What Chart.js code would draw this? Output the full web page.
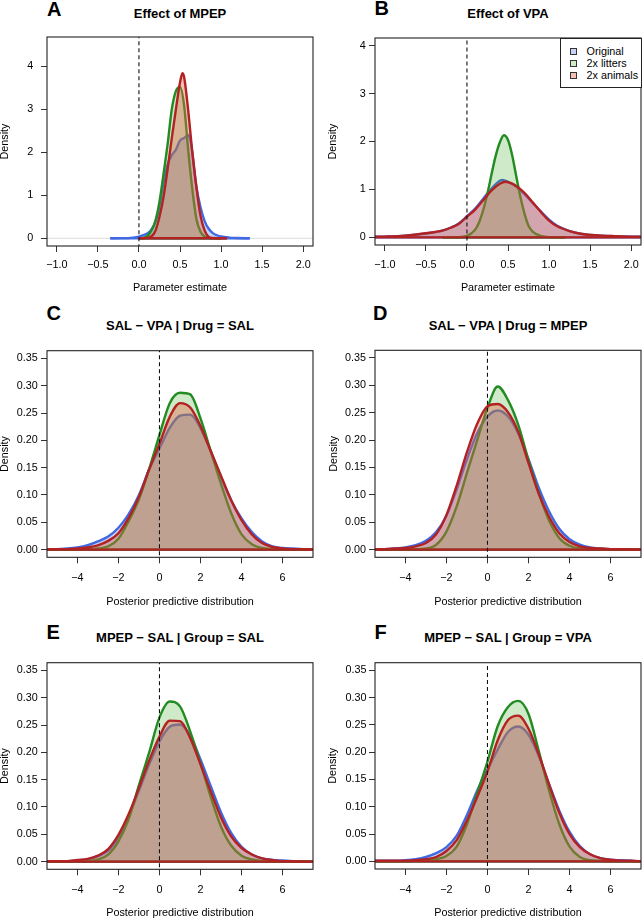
<!DOCTYPE html>
<html>
<head>
<meta charset="utf-8">
<title>Posterior densities</title>
<script src="https://cdn.jsdelivr.net/npm/chart.js@4.4.1/dist/chart.umd.min.js"></script>
<style>
  body { margin: 0; background: #fff; font-family: "Liberation Sans", Arial, Helvetica, sans-serif; }
  #page { position: relative; width: 642px; height: 919px; overflow: hidden; background: #fff; }
  #page canvas { position: absolute; }
  .letter { position: absolute; font-size: 20px; line-height: 20px; font-weight: bold; color: #000; }
  .title { position: absolute; width: 300px; text-align: center; font-size: 13px; line-height: 16px; font-weight: bold; white-space: nowrap; color: #000; }
  #legend { position: absolute; left: 560px; top: 38px; width: 82px; height: 50px; border: 1px solid #222; background: #fff; box-sizing: border-box; font-size: 10.8px; color: #000; }
  #legend .sw { position: absolute; left: 9px; width: 7px; height: 7px; border: 1px solid #333; box-sizing: border-box; }
  #legend .lb { position: absolute; left: 25.5px; line-height: 12px; white-space: nowrap; }
</style>
</head>
<body>
<div id="page"></div>
<script>
// series shown in every panel
var seriesNames = ['Original', '2x litters', '2x animals'];

// tick labels
var paramTicks = [-1, -0.5, 0, 0.5, 1, 1.5, 2];
var densTicksAB = [0, 1, 2, 3, 4];
var ppdTicks = [-4, -2, 0, 2, 4, 6];
var densTicksPPD = [0, 0.05, 0.10, 0.15, 0.20, 0.25, 0.30, 0.35];

// A - effect of MPEP
var mpepOrigX = [-0.35, -0.2, -0.1, 0.0, 0.1, 0.15, 0.2, 0.25, 0.3, 0.35, 0.4, 0.45, 0.5, 0.55, 0.6, 0.625, 0.65, 0.7, 0.75, 0.8, 0.85, 0.9, 0.95, 1.0, 1.1, 1.2, 1.35];
var mpepOrigY = [0, 0.003, 0.008, 0.04, 0.11, 0.2, 0.38, 0.75, 1.3, 1.72, 1.93, 2.06, 2.27, 2.33, 2.4, 2.3, 2.0, 1.2, 0.72, 0.4, 0.22, 0.12, 0.07, 0.04, 0.015, 0.005, 0];
var mpepLitX = [0.0, 0.05, 0.1, 0.15, 0.2, 0.25, 0.3, 0.35, 0.4, 0.45, 0.5, 0.55, 0.6, 0.65, 0.7, 0.75, 0.8, 0.85, 0.9, 1.0];
var mpepLitY = [0, 0.01, 0.05, 0.17, 0.4, 0.85, 1.5, 2.2, 3.0, 3.42, 3.52, 3.09, 2.05, 1.14, 0.45, 0.15, 0.04, 0.01, 0.003, 0];
var mpepAniX = [0.0, 0.1, 0.15, 0.2, 0.25, 0.3, 0.35, 0.4, 0.45, 0.5, 0.53, 0.55, 0.6, 0.65, 0.7, 0.75, 0.8, 0.85, 0.9, 1.07];
var mpepAniY = [0, 0.01, 0.04, 0.17, 0.5, 0.97, 1.62, 2.33, 3.0, 3.62, 3.84, 3.75, 2.97, 2.0, 1.18, 0.52, 0.18, 0.03, 0.005, 0];

// B - effect of VPA
var vpaOrigX = [-1.15, -1.0, -0.75, -0.5, -0.3, -0.2, -0.1, 0.0, 0.1, 0.2, 0.3, 0.4, 0.43, 0.5, 0.6, 0.7, 0.8, 0.9, 1.0, 1.1, 1.25, 1.4, 1.6, 1.8, 2.0, 2.15];
var vpaOrigY = [0.01, 0.015, 0.033, 0.08, 0.14, 0.2, 0.29, 0.44, 0.6, 0.81, 1.02, 1.18, 1.2, 1.16, 1.06, 0.9, 0.72, 0.54, 0.37, 0.24, 0.13, 0.07, 0.04, 0.022, 0.013, 0.01];
var vpaLitX = [-0.3, -0.1, 0.0, 0.05, 0.1, 0.15, 0.2, 0.25, 0.3, 0.35, 0.4, 0.45, 0.5, 0.55, 0.6, 0.65, 0.7, 0.75, 0.8, 0.9, 1.0, 1.2];
var vpaLitY = [0, 0.003, 0.03, 0.08, 0.16, 0.32, 0.58, 0.92, 1.32, 1.7, 1.98, 2.13, 2.03, 1.72, 1.28, 0.85, 0.5, 0.24, 0.12, 0.03, 0.005, 0];
var vpaAniX = [-1.15, -1.0, -0.75, -0.5, -0.3, -0.2, -0.1, 0.0, 0.1, 0.2, 0.3, 0.4, 0.47, 0.55, 0.6, 0.7, 0.8, 0.9, 1.0, 1.1, 1.25, 1.4, 1.6, 1.8, 2.0, 2.15];
var vpaAniY = [0.01, 0.015, 0.035, 0.085, 0.14, 0.2, 0.28, 0.43, 0.58, 0.78, 0.98, 1.12, 1.16, 1.12, 1.07, 0.93, 0.73, 0.53, 0.35, 0.23, 0.13, 0.07, 0.04, 0.025, 0.015, 0.01];

// C-F - posterior predictive distributions, all on one x grid
var ppdX = [-5.5, -5, -4.5, -4, -3.5, -3, -2.5, -2, -1.5, -1, -0.5, 0, 0.5, 1, 1.5, 2, 2.5, 3, 3.5, 4, 4.5, 5, 5.5, 6, 6.5, 7, 7.5];

// C - SAL - VPA | Drug = SAL
var drugSalOrig = [0.001, 0.001, 0.002, 0.004, 0.008, 0.015, 0.024, 0.04, 0.065, 0.1, 0.147, 0.185, 0.223, 0.245, 0.247, 0.222, 0.18, 0.132, 0.09, 0.057, 0.032, 0.015, 0.006, 0.003, 0.002, 0.001, 0.0005];
var drugSalLit = [0, 0, 0, 0.001, 0.001, 0.002, 0.006, 0.02, 0.052, 0.092, 0.148, 0.21, 0.268, 0.287, 0.284, 0.24, 0.18, 0.12, 0.066, 0.028, 0.01, 0.003, 0.001, 0, 0, 0, 0];
var drugSalAni = [0.001, 0.001, 0.001, 0.002, 0.004, 0.008, 0.016, 0.03, 0.058, 0.097, 0.147, 0.194, 0.243, 0.268, 0.26, 0.226, 0.18, 0.135, 0.09, 0.054, 0.028, 0.012, 0.005, 0.002, 0.001, 0.001, 0.0005];

// D - SAL - VPA | Drug = MPEP
var drugMpepOrig = [0.001, 0.001, 0.002, 0.004, 0.008, 0.016, 0.032, 0.062, 0.11, 0.165, 0.213, 0.243, 0.254, 0.243, 0.212, 0.165, 0.113, 0.07, 0.038, 0.019, 0.009, 0.004, 0.002, 0.001, 0.001, 0.0005, 0];
var drugMpepLit = [0, 0, 0, 0.001, 0.001, 0.002, 0.009, 0.033, 0.079, 0.14, 0.2, 0.259, 0.298, 0.273, 0.228, 0.163, 0.103, 0.053, 0.021, 0.007, 0.002, 0.001, 0, 0, 0, 0, 0];
var drugMpepAni = [0.001, 0.001, 0.002, 0.003, 0.006, 0.012, 0.028, 0.063, 0.117, 0.178, 0.23, 0.262, 0.266, 0.251, 0.215, 0.158, 0.102, 0.06, 0.03, 0.014, 0.006, 0.003, 0.002, 0.001, 0.001, 0.0005, 0];

// E - MPEP - SAL | Group = SAL
var grpSalOrig = [0.001, 0.001, 0.001, 0.002, 0.004, 0.01, 0.02, 0.045, 0.083, 0.13, 0.178, 0.22, 0.247, 0.251, 0.23, 0.187, 0.138, 0.09, 0.052, 0.027, 0.013, 0.006, 0.003, 0.002, 0.001, 0.0005, 0];
var grpSalLit = [0, 0, 0, 0.001, 0.001, 0.004, 0.013, 0.037, 0.078, 0.14, 0.2, 0.264, 0.293, 0.284, 0.238, 0.18, 0.118, 0.064, 0.029, 0.011, 0.004, 0.001, 0, 0, 0, 0, 0];
var grpSalAni = [0.001, 0.001, 0.001, 0.003, 0.005, 0.011, 0.023, 0.049, 0.087, 0.135, 0.185, 0.229, 0.258, 0.257, 0.226, 0.178, 0.128, 0.081, 0.046, 0.025, 0.013, 0.006, 0.003, 0.001, 0.001, 0, 0];

// F - MPEP - SAL | Group = VPA
var grpVpaOrig = [0.001, 0.001, 0.001, 0.002, 0.004, 0.008, 0.015, 0.026, 0.047, 0.085, 0.13, 0.168, 0.205, 0.237, 0.247, 0.232, 0.193, 0.142, 0.093, 0.054, 0.028, 0.013, 0.006, 0.003, 0.002, 0.001, 0];
var grpVpaLit = [0, 0, 0, 0, 0.001, 0.002, 0.004, 0.01, 0.027, 0.068, 0.125, 0.183, 0.248, 0.283, 0.294, 0.27, 0.202, 0.13, 0.068, 0.027, 0.008, 0.002, 0.001, 0, 0, 0, 0];
var grpVpaAni = [0.001, 0.001, 0.001, 0.001, 0.002, 0.004, 0.008, 0.019, 0.039, 0.075, 0.118, 0.165, 0.222, 0.259, 0.267, 0.243, 0.196, 0.141, 0.089, 0.05, 0.026, 0.013, 0.006, 0.003, 0.001, 0.001, 0];

// colours (R-ish)
var lineCols = ['#4169e1', '#228b22', '#b22222'];
var fillCols = ['rgba(65,105,225,0.30)', 'rgba(60,170,40,0.25)', 'rgba(230,100,70,0.40)'];

var FONT = '"Liberation Sans", Arial, Helvetica, sans-serif';
var FS = 10.8;
Chart.defaults.font.family = FONT;
Chart.defaults.font.size = FS;
Chart.defaults.color = '#000';
Chart.defaults.elements.point.radius = 0;

var page = document.getElementById('page');

// box around the plot region, like R's box()
var framePlugin = {
  id: 'frame',
  afterDraw: function (chart) {
    var a = chart.chartArea, ctx = chart.ctx;
    ctx.save();
    ctx.strokeStyle = '#222';
    ctx.lineWidth = 1.1;
    ctx.strokeRect(a.left, a.top, a.right - a.left, a.bottom - a.top);
    ctx.restore();
  }
};

function fmt(v, d) {
  return (v < 0 ? '\u2212' : '') + Math.abs(v).toFixed(d);
}

function pts(xs, ys) {
  return xs.map(function (x, i) { return { x: x, y: ys[i] }; });
}

function addDiv(cls, text, left, top) {
  var d = document.createElement('div');
  d.className = cls;
  d.textContent = text;
  d.style.left = left + 'px';
  d.style.top = top + 'px';
  page.appendChild(d);
  return d;
}

function drawPanel(p) {
  var g = p.geo;
  var half = FS * 1.2 / 2;
  var cTop = Math.round(g.caT) - 6;
  var H = Math.round(g.yt + half + 2 - cTop);
  var padL = Math.max(0, g.yTitleX - half - g.cl);
  var ytPad = (g.yTitleX - half - g.cl) - padL;
  var yW = g.caL - g.cl - padL;
  var padR = g.cl + 321 - g.caR;
  var padT = g.caT - cTop;
  var xH = g.yt + half - g.caB;
  var padB = H - (g.caB - cTop) - xH;
  var xTickPad = g.yl - g.caB - 6 - half;

  var cv = document.createElement('canvas');
  cv.width = 321; cv.height = H;
  cv.style.left = g.cl + 'px'; cv.style.top = cTop + 'px';
  cv.style.width = '321px'; cv.style.height = H + 'px';
  page.appendChild(cv);

  var ds = [];
  // faint zero line
  ds.push({ data: [{ x: p.xlim[0] - 1, y: 0 }, { x: p.xlim[1] + 1, y: 0 }], borderColor: '#dcdcdc', borderWidth: 1, fill: false, tension: 0, order: 10 });
  for (var s = 0; s < 3; s++) {
    var xs = p.xs[s];
    ds.push({
      label: seriesNames[s], data: pts(xs, p.ys[s]),
      borderColor: lineCols[s], backgroundColor: fillCols[s], borderWidth: 2.4,
      borderJoinStyle: 'round', fill: 'origin', cubicInterpolationMode: 'monotone', order: 9 - 2 * s
    });
    // polygon base
    ds.push({ data: [{ x: xs[0], y: 0 }, { x: xs[xs.length - 1], y: 0 }], borderColor: lineCols[s], borderWidth: 2.4, fill: false, tension: 0, order: 8 - 2 * s });
  }
  // dashed reference line at 0
  ds.push({ data: [{ x: 0, y: -10 }, { x: 0, y: 10 }], borderColor: '#111', borderWidth: 1.1, borderDash: [4, 3], fill: false, tension: 0, order: 0 });

  new Chart(cv, {
    type: 'line',
    data: { datasets: ds },
    options: {
      responsive: false, animation: false, events: [],
      layout: { padding: { left: padL, right: padR, top: padT, bottom: padB } },
      plugins: { legend: { display: false }, tooltip: { enabled: false }, filler: { drawTime: 'beforeDatasetDraw' } },
      scales: {
        x: {
          type: 'linear', min: p.xlim[0], max: p.xlim[1],
          afterBuildTicks: function (sc) { sc.ticks = p.xTicks.map(function (v) { return { value: v }; }); },
          afterFit: function (sc) { sc.height = xH; sc.paddingLeft = 0; sc.paddingRight = 0; },
          ticks: { callback: function (v) { return fmt(v, p.xDec); }, padding: xTickPad, maxRotation: 0, autoSkip: false, color: '#000' },
          grid: { drawOnChartArea: false, drawTicks: true, tickLength: 6, tickColor: '#333', tickWidth: 1 },
          border: { display: false },
          title: { display: true, text: p.xlab, color: '#000', padding: 0 }
        },
        y: {
          type: 'linear', min: p.ylim[0], max: p.ylim[1],
          afterBuildTicks: function (sc) { sc.ticks = p.yTicks.map(function (v) { return { value: v }; }); },
          afterFit: function (sc) { sc.width = yW; sc.paddingTop = 0; sc.paddingBottom = 0; },
          ticks: { callback: function (v) { return fmt(v, p.yDec); }, padding: g.yPad, autoSkip: false, color: '#000' },
          grid: { drawOnChartArea: false, drawTicks: true, tickLength: 6, tickColor: '#333', tickWidth: 1 },
          border: { display: false },
          title: { display: true, text: 'Density', color: '#000', padding: { top: ytPad, bottom: 0 } }
        }
      }
    },
    plugins: [framePlugin]
  });

  addDiv('title', p.title, (g.caL + g.caR) / 2 - 150, g.tY - 8);
  addDiv('letter', p.id, g.lX, g.lY);
}

var abLim = [-1.12, 2.12];
var ppdLim = [-5.48, 7.48];
var ppdYLim = [-0.014, 0.364];

var panels = [
  { id: 'A', title: 'Effect of MPEP', xs: [mpepOrigX, mpepLitX, mpepAniX], ys: [mpepOrigY, mpepLitY, mpepAniY],
    xTicks: paramTicks, yTicks: densTicksAB, xDec: 1, yDec: 0, xlim: abLim, ylim: [-0.18, 4.68], xlab: 'Parameter estimate',
    geo: { cl: 0, caL: 47, caR: 313, caT: 37, caB: 246, yl: 265, yt: 288, yPad: 7.7, yTitleX: 5, tY: 14, lX: 47, lY: -0.9 } },
  { id: 'B', title: 'Effect of VPA', xs: [vpaOrigX, vpaLitX, vpaAniX], ys: [vpaOrigY, vpaLitY, vpaAniY],
    xTicks: paramTicks, yTicks: densTicksAB, xDec: 1, yDec: 0, xlim: abLim, ylim: [-0.16, 4.16], xlab: 'Parameter estimate',
    geo: { cl: 321, caL: 375, caR: 641, caT: 38, caB: 245, yl: 265, yt: 288.3, yPad: 3.3, yTitleX: 333, tY: 14, lX: 374.5, lY: -1.6 } },
  { id: 'C', title: 'SAL \u2212 VPA | Drug = SAL', xs: [ppdX, ppdX, ppdX], ys: [drugSalOrig, drugSalLit, drugSalAni],
    xTicks: ppdTicks, yTicks: densTicksPPD, xDec: 0, yDec: 2, xlim: ppdLim, ylim: ppdYLim, xlab: 'Posterior predictive distribution',
    geo: { cl: 0, caL: 47, caR: 313, caT: 350.7, caB: 557.3, yl: 578.3, yt: 601.7, yPad: 3.3, yTitleX: 5, tY: 326.3, lX: 46.5, lY: 303.4 } },
  { id: 'D', title: 'SAL \u2212 VPA | Drug = MPEP', xs: [ppdX, ppdX, ppdX], ys: [drugMpepOrig, drugMpepLit, drugMpepAni],
    xTicks: ppdTicks, yTicks: densTicksPPD, xDec: 0, yDec: 2, xlim: ppdLim, ylim: ppdYLim, xlab: 'Posterior predictive distribution',
    geo: { cl: 321, caL: 375, caR: 641, caT: 350.3, caB: 557.3, yl: 578.3, yt: 601.7, yPad: 3, yTitleX: 334, tY: 325.5, lX: 373, lY: 303.4 } },
  { id: 'E', title: 'MPEP \u2212 SAL | Group = SAL', xs: [ppdX, ppdX, ppdX], ys: [grpSalOrig, grpSalLit, grpSalAni],
    xTicks: ppdTicks, yTicks: densTicksPPD, xDec: 0, yDec: 2, xlim: ppdLim, ylim: ppdYLim, xlab: 'Posterior predictive distribution',
    geo: { cl: 0, caL: 47, caR: 313, caT: 662.7, caB: 869.3, yl: 890, yt: 913.3, yPad: 3.3, yTitleX: 5, tY: 638.3, lX: 46.5, lY: 622.4 } },
  { id: 'F', title: 'MPEP \u2212 SAL | Group = VPA', xs: [ppdX, ppdX, ppdX], ys: [grpVpaOrig, grpVpaLit, grpVpaAni],
    xTicks: ppdTicks, yTicks: densTicksPPD, xDec: 0, yDec: 2, xlim: ppdLim, ylim: ppdYLim, xlab: 'Posterior predictive distribution',
    geo: { cl: 321, caL: 375, caR: 641, caT: 662.7, caB: 869, yl: 890, yt: 913.3, yPad: 2.5, yTitleX: 333, tY: 638.3, lX: 374.5, lY: 622.4 } }
];

panels.forEach(drawPanel);

// legend of panel B
var legend = document.createElement('div');
legend.id = 'legend';
page.appendChild(legend);
seriesNames.forEach(function (name, i) {
  var sw = document.createElement('div');
  sw.className = 'sw';
  sw.style.top = (8.7 + i * 12.3) + 'px';
  sw.style.background = fillCols[i];
  legend.appendChild(sw);
  var lb = document.createElement('div');
  lb.className = 'lb';
  lb.style.top = (5.7 + i * 12.3) + 'px';
  lb.textContent = name;
  legend.appendChild(lb);
});
</script>
</body>
</html>
